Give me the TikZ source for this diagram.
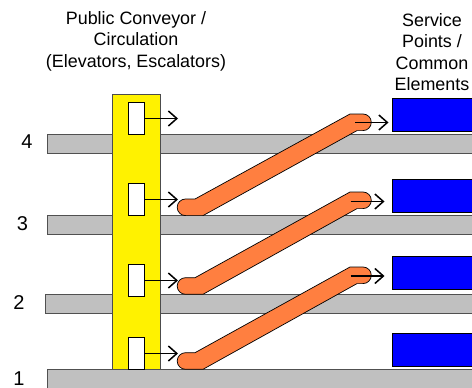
\documentclass[tikz,border=0pt]{standalone}
\usepackage{fontspec}
\setmainfont{Liberation Sans}
\usetikzlibrary{arrows.meta}

\definecolor{floorgray}{HTML}{C0C0C0}
\definecolor{escorange}{HTML}{FF7F40}
\definecolor{floorline}{HTML}{505050}

\tikzset{
    >={Straight Barb[length=8.5pt,width=15pt,line width=1.5pt]},
    floorbar/.style={fill=floorgray,draw=floorline,line width=0.9pt},
    door/.style={draw=black,fill=white,line width=0.7pt,inner sep=0pt,minimum width=16pt,minimum height=32.5pt},
    service/.style={draw=black,fill=blue,line width=0.7pt,inner sep=0pt,minimum width=82pt,minimum height=33pt},
    escalator/.style={fill=escorange,draw=black,line width=0.7pt},
    flow/.style={line width=1.3pt,->},
    heading/.style={align=center,font=\fontsize{17.9}{21.5}\selectfont,inner sep=0pt},
    level/.style={font=\fontsize{20}{20}\selectfont,inner sep=0pt}
}

\begin{document}
\begin{tikzpicture}[x=1pt,y=-1pt]
\useasboundingbox (0,0) rectangle (472,388);

% Floors
\draw [floorbar] (47.5,134.5) rectangle (480,153);
\draw [floorbar] (47.5,215.5) rectangle (480,234);
\draw [floorbar] (45.5,294.5) rectangle (480,313);

% Conveyor core
\draw [fill=yellow,draw=black!70,line width=0.7pt] (112.5,94) rectangle (160.5,375);

\draw [floorbar] (47.5,369.5) rectangle (480,395);

% Doors
\node [door] (door4) at (136.5,118.5) {};
\node [door] (door3) at (136.5,199.5) {};
\node [door] (door2) at (136.5,280.5) {};
\node [door] (door1) at (136.5,353.5) {};

% Escalators
\draw [escalator] (195,199) to (350,114) to (363,114) arc [start angle=90,end angle=-90,radius=8.3pt]
    to (357,130.6) to (203,215.6) to (185.5,215.6) arc [start angle=270,end angle=90,radius=8.3pt] to cycle;
\draw [escalator] (195,277.7) to (350,192) to (363,192) arc [start angle=90,end angle=-90,radius=8.3pt]
    to (357,208.6) to (203,294.3) to (185.5,294.3) arc [start angle=270,end angle=90,radius=8.3pt] to cycle;
\draw [escalator] (195,352.7) to (350,267) to (363,267) arc [start angle=90,end angle=-90,radius=8.3pt]
    to (357,283.6) to (203,369.3) to (185.5,369.3) arc [start angle=270,end angle=90,radius=8.3pt] to cycle;

% Service points
\node [service] (point4) at (433,114.5) {};
\node [service] (point3) at (433,195.5) {};
\node [service] (point2) at (433,272.5) {};
\node [service] (point1) at (433,349.5) {};

% Arrows
\coordinate (door4tip) at (178,118.5);
\coordinate (door3tip) at (178,199.5);
\coordinate (door2tip) at (178,280.5);
\coordinate (door1tip) at (178,353.5);
\draw [flow] (door4.east) to (door4tip);
\draw [flow] (door3.east) to (door3tip);
\draw [flow] (door2.east) to (door2tip);
\draw [flow] (door1.east) to (door1tip);

\coordinate (esc3top) at (355,122.5);
\coordinate (esc3tip) at (388.5,122.5);
\coordinate (esc2top) at (350.5,201.5);
\coordinate (esc2tip) at (384.5,201.5);
\coordinate (esc1top) at (350.5,276);
\coordinate (esc1tip) at (384.5,276);
\draw [flow] (esc3top) to (esc3tip);
\draw [flow] (esc2top) to (esc2tip);
\draw [flow] (esc1top) to (esc1tip);

% Labels
\node [heading] (conveyorlabel) at (136,41) {Public Conveyor /\\Circulation\\(Elevators, Escalators)};
\node [heading] (servicelabel) at (432,52) {Service\\Points /\\Common\\Elements};
\node [level] (level4) at (27,142) {4};
\node [level] (level3) at (22.5,224) {3};
\node [level] (level2) at (19,303) {2};
\node [level] (level1) at (19,378.5) {1};

\end{tikzpicture}
\end{document}
